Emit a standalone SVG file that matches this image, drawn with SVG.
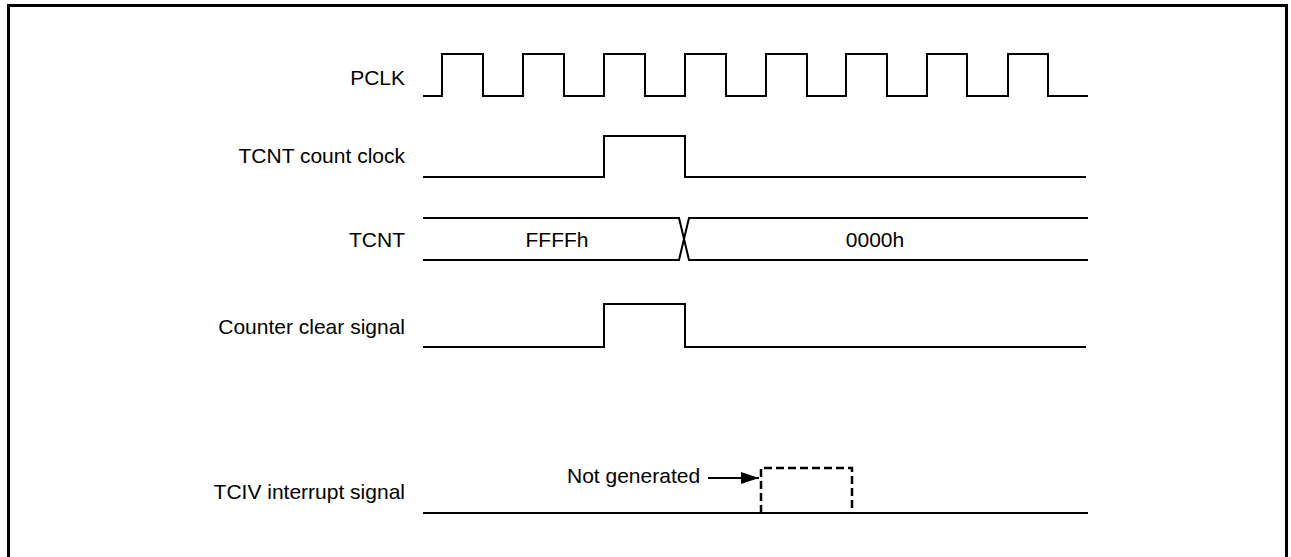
<svg xmlns="http://www.w3.org/2000/svg" width="1291" height="557" viewBox="0 0 1291 557">
<style>
.lbl{font-family:"Liberation Sans",Arial,sans-serif;font-size:21px;fill:#000}
.end{text-anchor:end}
.mid{text-anchor:middle}
.w{fill:none;stroke:#000;stroke-width:2;stroke-linejoin:miter}
.d{fill:none;stroke:#000;stroke-width:2.5;stroke-dasharray:8 4}
</style>
<defs>
<marker id="ah" markerWidth="18" markerHeight="12" refX="18" refY="6" orient="auto" markerUnits="userSpaceOnUse">
<polygon points="0,0 18,6 0,12" fill="#000"/>
</marker>
</defs>
<rect width="1291" height="557" fill="#fff"/>
<rect x="8.5" y="5.5" width="1278" height="600" fill="none" stroke="#000" stroke-width="3"/>
<g id="pclk">
<text class="lbl end" x="405" y="85">PCLK</text>
<path class="w" d="M423,96 H442 V54 H483 V96 H523 V54 H564 V96 H604 V54 H645 V96 H685 V54 H726 V96 H766 V54 H807 V96 H846 V54 H887 V96 H927 V54 H967 V96 H1008 V54 H1048 V96 H1088"/>
</g>
<g id="tcnt-count-clock">
<text class="lbl end" x="405" y="163">TCNT count clock</text>
<path class="w" d="M423,177 H604 V136 H685 V177 H1086"/>
</g>
<g id="tcnt">
<text class="lbl end" x="405" y="247">TCNT</text>
<path class="w" d="M423,218 H679 L689,260 H1088 M423,260 H679 L689,218 H1088"/>
<text class="lbl mid" x="557" y="247">FFFFh</text>
<text class="lbl mid" x="875" y="247">0000h</text>
</g>
<g id="counter-clear">
<text class="lbl end" x="405" y="334">Counter clear signal</text>
<path class="w" d="M423,347 H604 V304 H685 V347 H1086"/>
</g>
<g id="tciv">
<text class="lbl end" x="405" y="499">TCIV interrupt signal</text>
<path class="w" d="M423,513 H1088"/>
<path class="d" d="M761,513 V468 H852 V513"/>
<text class="lbl" x="567" y="483">Not generated</text>
</g>
<g id="connectors">
<line x1="708" y1="478" x2="759" y2="478" stroke="#000" stroke-width="2" marker-end="url(#ah)"/>
</g>
</svg>
